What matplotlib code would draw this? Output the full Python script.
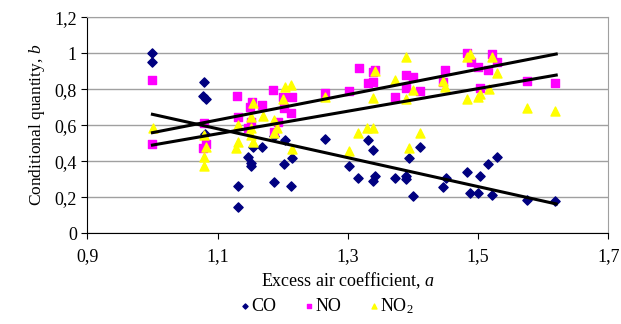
import numpy as np
import matplotlib
matplotlib.use('Agg')
import matplotlib.pyplot as plt
from matplotlib.ticker import FuncFormatter

plt.rcParams['font.family'] = 'Liberation Serif'
plt.rcParams['mathtext.fontset'] = 'custom'
plt.rcParams['mathtext.rm'] = 'Liberation Serif'
plt.rcParams['mathtext.it'] = 'Liberation Serif:italic'

# data
co_x = [1.0, 1.0, 1.079, 1.077, 1.082, 1.08, 1.131, 1.131, 1.146, 1.152, 1.152, 1.154,
        1.168, 1.186, 1.187, 1.202, 1.204, 1.215, 1.213, 1.265, 1.302, 1.316, 1.331,
        1.339, 1.342, 1.339, 1.372, 1.39, 1.39, 1.394, 1.4, 1.411, 1.446, 1.45, 1.483,
        1.488, 1.5, 1.503, 1.516, 1.522, 1.529, 1.575, 1.618]
co_y = [1.0, 0.95, 0.839, 0.765, 0.746, 0.55, 0.261, 0.144, 0.426, 0.389, 0.376, 0.481,
        0.48, 0.287, 0.54, 0.385, 0.518, 0.417, 0.263, 0.526, 0.374, 0.307, 0.518,
        0.463, 0.318, 0.29, 0.307, 0.318, 0.3, 0.418, 0.207, 0.481, 0.259, 0.309, 0.339,
        0.222, 0.226, 0.32, 0.387, 0.213, 0.426, 0.183, 0.178]

no_x = [1.0, 1.0, 1.079, 1.078, 1.082, 1.13, 1.131, 1.15, 1.153, 1.152, 1.147, 1.168,
        1.185, 1.201, 1.215, 1.202, 1.212, 1.193, 1.187, 1.265, 1.302, 1.317, 1.338,
        1.342, 1.331, 1.339, 1.372, 1.39, 1.4, 1.39, 1.411, 1.449, 1.446, 1.483, 1.489,
        1.5, 1.516, 1.521, 1.529, 1.503, 1.575, 1.618]
no_y = [0.852, 0.496, 0.614, 0.472, 0.496, 0.763, 0.648, 0.703, 0.731, 0.62, 0.583, 0.713,
        0.796, 0.756, 0.759, 0.694, 0.67, 0.62, 0.564, 0.778, 0.792, 0.917, 0.898,
        0.907, 0.833, 0.842, 0.759, 0.879, 0.87, 0.806, 0.792, 0.907, 0.842, 1.0, 0.953,
        0.926, 0.907, 0.996, 0.953, 0.806, 0.848, 0.837]

no2_x = [1.001, 1.079, 1.079, 1.083, 1.079, 1.129, 1.132, 1.131, 1.154, 1.151, 1.152,
         1.151, 1.154, 1.169, 1.186, 1.191, 1.187, 1.204, 1.213, 1.201, 1.215, 1.265,
         1.302, 1.316, 1.33, 1.339, 1.342, 1.338, 1.372, 1.39, 1.4, 1.39, 1.394, 1.411,
         1.446, 1.449, 1.488, 1.483, 1.483, 1.5, 1.503, 1.517, 1.522, 1.529, 1.575, 1.618]
no2_y = [0.583, 0.546, 0.426, 0.478, 0.376, 0.472, 0.509, 0.602, 0.726, 0.644, 0.583,
         0.546, 0.509, 0.653, 0.63, 0.583, 0.556, 0.815, 0.824, 0.746, 0.467, 0.759,
         0.459, 0.559, 0.587, 0.587, 0.902, 0.754, 0.852, 0.981, 0.796, 0.744, 0.476, 0.559,
         0.848, 0.811, 0.996, 0.981, 0.746, 0.756, 0.772, 0.8, 0.978, 0.892, 0.694, 0.681]

# trend line ends
trend_x = [1.0, 1.62]
trend_co = [0.661, 0.163]
trend_no = [0.559, 0.996]
trend_no2 = [0.49, 0.879]

fig = plt.figure(figsize=(6.21, 3.24), dpi=100)
ax = fig.add_axes([0.1406, 0.280, 0.839, 0.6666])

ax.scatter(co_x, co_y, marker='D', s=22, color='#000080', zorder=3, label='CO')
ax.scatter(no_x, no_y, marker='s', s=36, color='#FF00FF', zorder=3, label='NO')
ax.scatter(no2_x, no2_y, marker='^', s=42, color='#FFFF00', zorder=3, label='NO$_2$')
for ty in [trend_co, trend_no, trend_no2]:
    ax.plot(trend_x, ty, color='black', lw=2.2, zorder=4)

ax.set_xlim(0.9, 1.7)
ax.set_ylim(0, 1.2)
ax.set_xticks(np.arange(0.9, 1.71, 0.2))
ax.set_yticks(np.arange(0, 1.21, 0.2))
fmt = FuncFormatter(lambda v, p: ('%g' % round(v, 1)).replace('.', ','))
ax.xaxis.set_major_formatter(fmt)
ax.yaxis.set_major_formatter(fmt)
ax.yaxis.grid(True, color='#a0a0a0', lw=1)
ax.set_axisbelow(True)
ax.spines['top'].set_color('#a0a0a0')
ax.spines['right'].set_color('#a0a0a0')
ax.tick_params(labelsize=13, length=4, direction='out')
ax.tick_params(axis='x', pad=7)
ax.set_xlabel('Excess air coefficient, $\\it{a}$', fontsize=13, labelpad=3)
ax.set_ylabel('Conditional quantity, $\\it{b}$', fontsize=12.5, labelpad=5)

fig.legend(loc='lower center', bbox_to_anchor=(0.526, -0.025), ncol=3, frameon=False,
           fontsize=13, handlelength=0.6, handletextpad=0.05, columnspacing=1.5,
           markerscale=0.55)

fig.savefig('out.png', dpi=100)
